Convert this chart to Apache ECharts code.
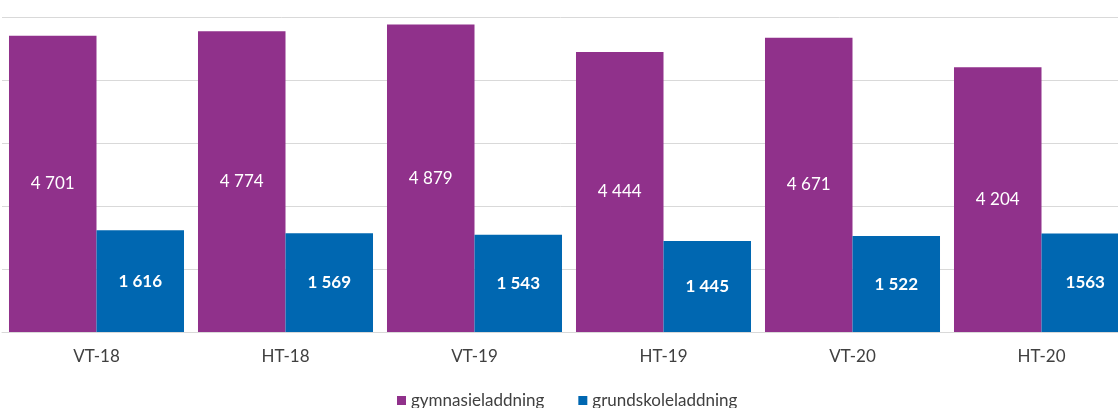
<!DOCTYPE html>
<html>
<head>
<meta charset="utf-8">
<script src="https://cdn.jsdelivr.net/npm/echarts@6/dist/echarts.min.js"></script>
<style>
  html, body { margin: 0; padding: 0; background: #fff; }
  #chart { width: 1118px; height: 408px; }
</style>
</head>
<body>
<div id="chart"></div>
<script>
// terminer
var categories = ['VT-18', 'HT-18', 'VT-19', 'HT-19', 'VT-20', 'HT-20'];
var gymnasie = [4701, 4774, 4879, 4444, 4671, 4204];
var grundskola = [1616, 1569, 1543, 1445, 1522, 1563];
// etiketter som de står i originalet
var gymnasieText = ['4 701', '4 774', '4 879', '4 444', '4 671', '4 204'];
var grundskolaText = ['1 616', '1 569', '1 543', '1 445', '1 522', '1563'];
var seriesNames = ['gymnasieladdning', 'grundskoleladdning'];

var font = 'Lato, "Open Sans", sans-serif';

var chart = echarts.init(document.getElementById('chart'));

var option = {
    animation: false,
    textStyle: { fontFamily: font },
    grid: {
        left: 2,
        top: 17,
        width: 1134,
        height: 315,
        outerBoundsMode: 'none'
    },
    legend: {
        data: seriesNames,
        left: 392,
        top: 387,
        padding: 5,
        itemWidth: 9,
        itemHeight: 9,
        itemGap: 34,
        icon: 'rect',
        textStyle: { color: '#404040', fontSize: 17, fontFamily: font }
    },
    xAxis: {
        type: 'category',
        data: categories,
        axisTick: { show: false },
        axisLine: { lineStyle: { color: '#d9d9d9', width: 1 } },
        axisLabel: {
            color: '#404040',
            fontSize: 17,
            margin: 16
        }
    },
    yAxis: {
        type: 'value',
        min: 0,
        max: 5000,
        interval: 1000,
        axisLabel: { show: false },
        axisLine: { show: false },
        axisTick: { show: false },
        splitLine: { lineStyle: { color: '#d9d9d9', width: 1 } }
    },
    series: [{
        name: seriesNames[0],
        type: 'bar',
        data: gymnasie,
        barGap: '0%',
        barCategoryGap: '7.4%',
        itemStyle: { color: '#90318b' },
        label: {
            show: true,
            position: 'inside',
            color: '#fff',
            fontSize: 17,
            formatter: function (p) { return gymnasieText[p.dataIndex]; }
        }
    }, {
        name: seriesNames[1],
        type: 'bar',
        data: grundskola,
        itemStyle: { color: '#0067b1' },
        label: {
            show: true,
            position: 'inside',
            color: '#fff',
            fontSize: 17,
            fontWeight: 'bold',
            formatter: function (p) { return grundskolaText[p.dataIndex]; }
        }
    }]
};

chart.setOption(option);
</script>
</body>
</html>
